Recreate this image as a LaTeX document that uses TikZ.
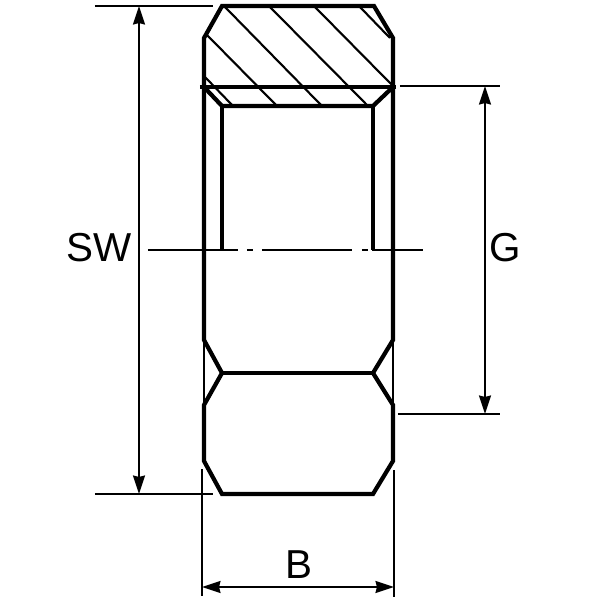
\documentclass[tikz,border=0pt]{standalone}
\usepackage{fontspec}
\setmainfont{Liberation Sans}
\usetikzlibrary{arrows.meta}
\begin{document}
\begin{tikzpicture}
[x=0.02cm,y=-0.02cm,
  contourdecorate/.style={line width=2.4pt,line join=miter},%
  threaddecorate/.style={line width=2.4pt},%
  thindecorate/.style={line width=1.2pt},%
  hatchdecorate/.style={line width=1.2pt},%
  arrowdecorate/.style={<->,>={Stealth[length=10.5pt,width=6.8pt,inset=0.8pt]},line width=1.2pt},%
  labeldecorate/.style={inner sep=0pt,font=\fontsize{23}{23}\selectfont}]
\useasboundingbox (0,0) rectangle (600,600);
% hatching
\foreach \xa/\ya/\xb/\yb in {225/7/322/106,270/7/367/105,315/7/392/85,360/7/390/38,207/35/277/106,205/77/233/106}
  \draw[hatchdecorate] (\xa,\ya) -- (\xb,\yb);
% contour
\draw[contourdecorate] (222,6) -- (374,6) -- (393,38) -- (393,340) -- (373,373) -- (393,405)
  -- (393,461) -- (373,494) -- (222,494) -- (204,461) -- (204,405) -- (222,373) -- (204,340)
  -- (204,38) -- cycle;
\draw[contourdecorate] (222,373) -- (373,373);
\draw[contourdecorate] (200,87) -- (396,87);
\draw[contourdecorate] (204,87) -- (222,106) -- (373,106) -- (393,87);
\draw[thindecorate] (204,340) -- (204,405);
\draw[thindecorate] (393,340) -- (393,405);
% thread
\draw[threaddecorate] (222,106) -- (222,250);
\draw[threaddecorate] (373,106) -- (373,250);
% centre line
\foreach \xa/\xb in {148/238,247/253,262/352,362/368,372/423}
  \draw[thindecorate] (\xa,250) -- (\xb,250);
% extension lines
\coordinate (swtop) at (139,6);
\coordinate (swbottom) at (139,494);
\coordinate (gtop) at (485,86);
\coordinate (gbottom) at (485,414);
\coordinate (bleft) at (202,587);
\coordinate (bright) at (394,587);
\draw[thindecorate] (95,6) -- (213,6);
\draw[thindecorate] (95,494) -- (213,494);
\draw[thindecorate] (400,86) -- (500,86);
\draw[thindecorate] (398,414) -- (500,414);
\draw[thindecorate] (202,469) -- (202,596);
\draw[thindecorate] (394,470) -- (394,597);
% labels
\node (SW) at (99.5,248) [labeldecorate] {SW};
\node (G) at (505.5,248) [labeldecorate] {G};
\node (B) at (299,565) [labeldecorate] {B};
% dimensions
\path
(swtop) edge[arrowdecorate] (swbottom)
(gtop) edge[arrowdecorate] (gbottom)
(bleft) edge[arrowdecorate] (bright);
\end{tikzpicture}
\end{document}
